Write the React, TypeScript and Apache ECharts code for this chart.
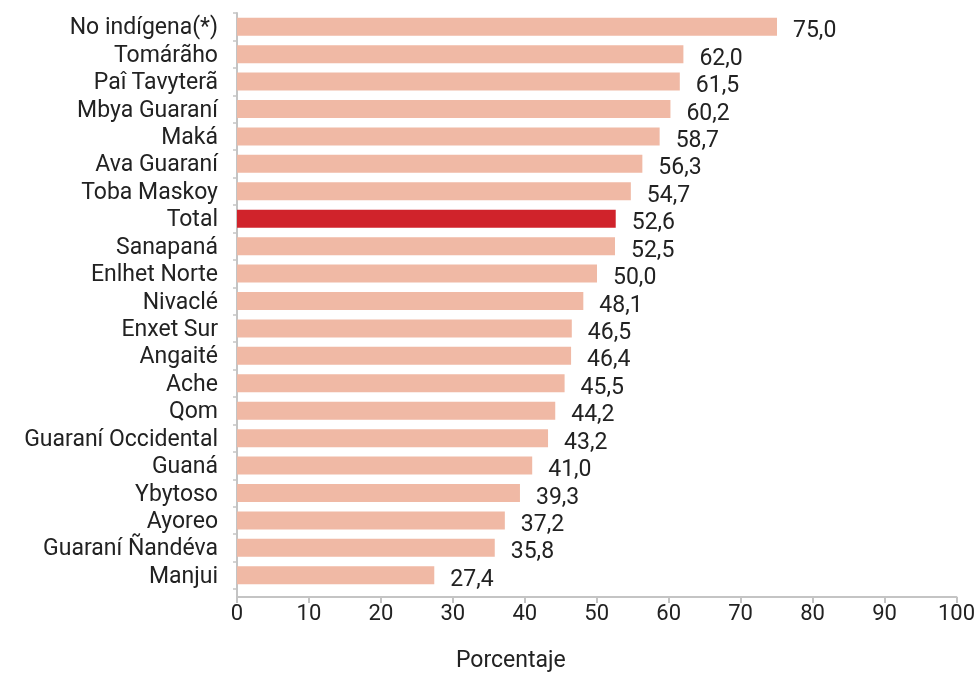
import React, { useEffect, useRef } from "react";
import * as echarts from "echarts";

const categories = [
  "No indígena(*)", "Tomárãho", "Paî Tavyterã", "Mbya Guaraní", "Maká", "Ava Guaraní",
  "Toba Maskoy", "Total", "Sanapaná", "Enlhet Norte", "Nivaclé", "Enxet Sur", "Angaité",
  "Ache", "Qom", "Guaraní Occidental", "Guaná", "Ybytoso", "Ayoreo", "Guaraní Ñandéva", "Manjui",
];
const values = [75.0, 62.0, 61.5, 60.2, 58.7, 56.3, 54.7, 52.6, 52.5, 50.0, 48.1, 46.5, 46.4, 45.5, 44.2, 43.2, 41.0, 39.3, 37.2, 35.8, 27.4];
const highlight = "Total";
const xTicks = [0, 10, 20, 30, 40, 50, 60, 70, 80, 90, 100];
const axisTitle = "Porcentaje";

const FONT = "Roboto";
const AXIS = "#c4c4c4";

export default function App() {
  const ref = useRef<HTMLDivElement>(null);
  useEffect(() => {
    if (!ref.current) return;
    const chart = echarts.init(ref.current, null, { renderer: "svg" });
    const xMin = xTicks[0];
    const xMax = xTicks[xTicks.length - 1];
    chart.setOption({
      animation: false,
      grid: [
        { left: 237, top: 13, width: 720, height: 576, containLabel: false },
        { left: 237, top: 13, width: 720, height: 584, containLabel: false },
      ],
      xAxis: [
        {
          gridIndex: 0, type: "value", min: xMin, max: xMax, interval: 10,
          show: false,
        },
        {
          gridIndex: 1, type: "value", min: xMin, max: xMax, interval: 10,
          splitLine: { show: false },
          axisLine: { show: true, lineStyle: { color: AXIS, width: 2 } },
          axisTick: { show: true, length: 6, lineStyle: { color: AXIS, width: 2 } },
          axisLabel: { color: "#222", fontSize: 22, fontFamily: FONT, margin: 4 },
        },
      ],
      yAxis: [
        {
          gridIndex: 0,
          type: "category",
          data: categories,
          inverse: true,
          axisLine: { show: false },
          axisTick: { show: true, length: 4, lineStyle: { color: AXIS, width: 1.5 } },
          axisLabel: {
            interval: 0, color: "#222", fontSize: 23, lineHeight: 25, fontFamily: FONT, margin: 19,
          },
        },
        {
          gridIndex: 1,
          type: "value",
          min: 0,
          max: 1,
          axisLine: { show: true, lineStyle: { color: AXIS, width: 2 } },
          axisTick: { show: false },
          axisLabel: { show: false },
          splitLine: { show: false },
        },
      ],
      series: [
        {
          type: "bar",
          xAxisIndex: 0,
          yAxisIndex: 0,
          data: values.map((v, i) => ({
            value: v,
            itemStyle: { color: categories[i] === highlight ? "#d0232b" : "#f0b9a5" },
          })),
          barWidth: 18,
          label: {
            show: true,
            position: "right",
            distance: 16,
            offset: [0, 3],
            color: "#222",
            fontSize: 23,
            lineHeight: 24,
            fontFamily: FONT,
            formatter: (p: any) => p.value.toFixed(1).replace(".", ","),
          },
        },
      ],
      graphic: [
        {
          type: "text",
          left: 456,
          top: 648,
          style: { text: axisTitle, fill: "#222", fontSize: 23, fontFamily: FONT },
        },
      ],
    });
    return () => chart.dispose();
  }, []);
  return <div ref={ref} style={{ position: "fixed", left: 0, top: 0, width: 978, height: 674 }} />;
}
